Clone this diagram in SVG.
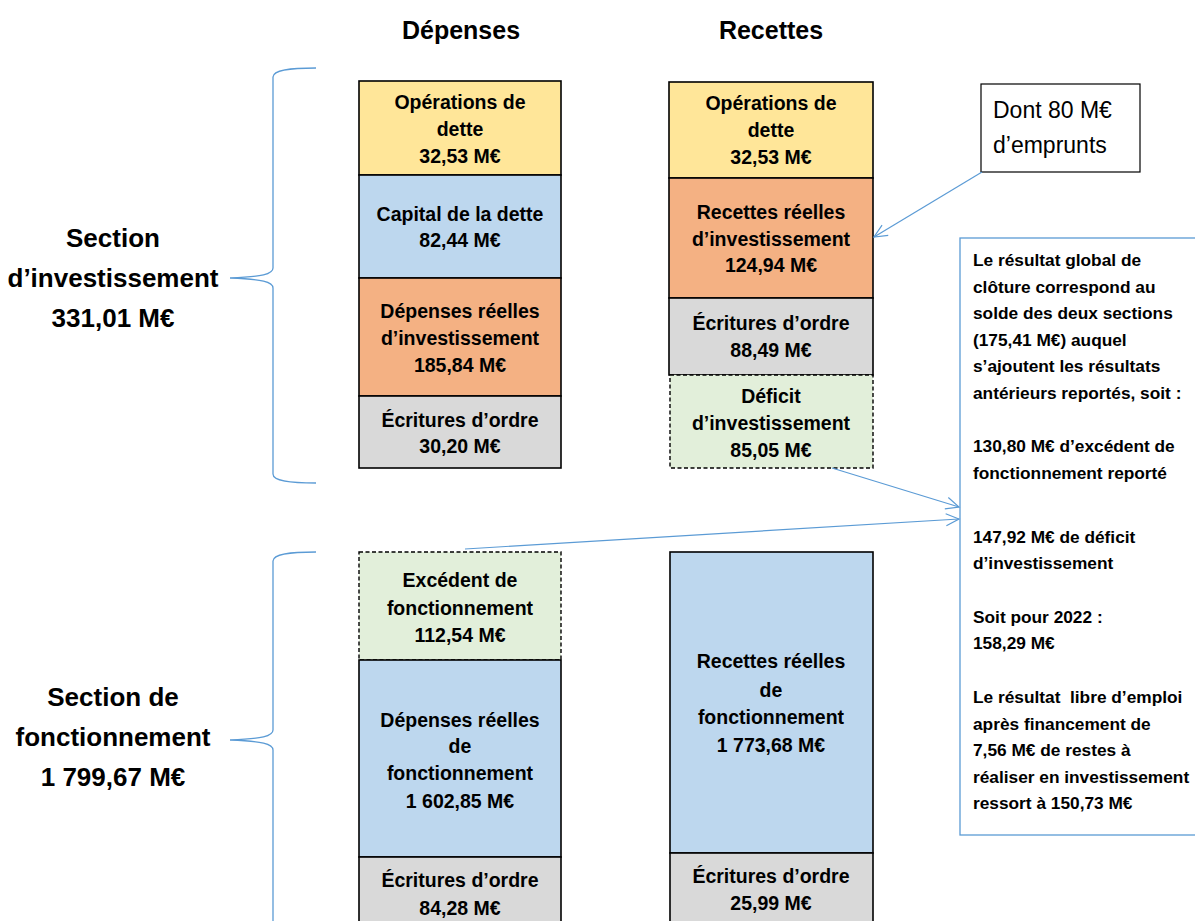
<svg xmlns="http://www.w3.org/2000/svg" width="1195" height="921" viewBox="0 0 1195 921">
<defs>
<style>
.hdr{font-family:"Liberation Sans",Arial,sans-serif;font-weight:bold;font-size:25px;fill:#000;text-anchor:middle}
.sec{font-family:"Liberation Sans",Arial,sans-serif;font-weight:bold;font-size:26px;fill:#000;text-anchor:middle}
.bt{font-family:"Liberation Sans",Arial,sans-serif;font-weight:bold;font-size:19.5px;fill:#000;text-anchor:middle}
.nt{font-family:"Liberation Sans",Arial,sans-serif;font-weight:bold;font-size:17.3px;fill:#000;white-space:pre}
.dt{font-family:"Liberation Sans",Arial,sans-serif;font-size:23px;fill:#000}
.box{stroke:#000;stroke-width:1.6}
.dash{stroke:#000;stroke-width:1.4;stroke-dasharray:4 2.5}
.y{fill:#FFE699}.b{fill:#BDD7EE}.o{fill:#F4B183}.g{fill:#D9D9D9}.v{fill:#E2EFDA}
.brace{fill:none;stroke:#5B9BD5;stroke-width:1.3}
.con{fill:none;stroke:#5B9BD5;stroke-width:1.2}
</style>
<marker id="arr" markerUnits="userSpaceOnUse" markerWidth="16" markerHeight="14" refX="14" refY="7" orient="auto">
<path d="M1,1 L14,7 L1,13" fill="none" stroke="#5B9BD5" stroke-width="1.2"/>
</marker>
</defs>
<rect width="1195" height="921" fill="#fff"/>

<text class="hdr" x="461" y="39">Dépenses</text>
<text class="hdr" x="771" y="39">Recettes</text>

<g id="label-investissement">
<text class="sec" x="113" y="247">Section</text>
<text class="sec" x="113" y="287">d’investissement</text>
<text class="sec" x="113" y="327">331,01 M€</text>
</g>
<g id="label-fonctionnement">
<text class="sec" x="113" y="706">Section de</text>
<text class="sec" x="113" y="746">fonctionnement</text>
<text class="sec" x="113" y="786">1 799,67 M€</text>
</g>

<g id="brace-investissement">
<path class="brace" d="M316,68 C290,68 273,70 273,77 L273,268 C273,274 262,277 230,278 C262,279 273,282 273,288 L273,474 C273,481 290,483 316,483"/>
</g>
<g id="brace-fonctionnement">
<path class="brace" d="M316,552 C290,552 273,554 273,561 L273,730 C273,736 262,739 230,740 C262,741 273,744 273,750 L273,930"/>
</g>

<g id="dep-operations-dette">
<rect class="box y" x="359" y="81" width="202" height="94"/>
<text class="bt" x="460" y="109">Opérations de</text>
<text class="bt" x="460" y="136">dette</text>
<text class="bt" x="460" y="163">32,53 M€</text>
</g>
<g id="dep-capital-dette">
<rect class="box b" x="359" y="175" width="202" height="103"/>
<text class="bt" x="460" y="221">Capital de la dette</text>
<text class="bt" x="460" y="247">82,44 M€</text>
</g>
<g id="dep-reelles-invest">
<rect class="box o" x="359" y="278" width="202" height="118"/>
<text class="bt" x="460" y="318">Dépenses réelles</text>
<text class="bt" x="460" y="345">d’investissement</text>
<text class="bt" x="460" y="372">185,84 M€</text>
</g>
<g id="dep-ecritures-invest">
<rect class="box g" x="359" y="396" width="202" height="72"/>
<text class="bt" x="460" y="427">Écritures d’ordre</text>
<text class="bt" x="460" y="453">30,20 M€</text>
</g>

<g id="rec-operations-dette">
<rect class="box y" x="669" y="82" width="204" height="96"/>
<text class="bt" x="771" y="110">Opérations de</text>
<text class="bt" x="771" y="137">dette</text>
<text class="bt" x="771" y="164">32,53 M€</text>
</g>
<g id="rec-reelles-invest">
<rect class="box o" x="669" y="178" width="204" height="120"/>
<text class="bt" x="771" y="219">Recettes réelles</text>
<text class="bt" x="771" y="246">d’investissement</text>
<text class="bt" x="771" y="272">124,94 M€</text>
</g>
<g id="rec-ecritures-invest">
<rect class="box g" x="669" y="298" width="204" height="77"/>
<text class="bt" x="771" y="330">Écritures d’ordre</text>
<text class="bt" x="771" y="357">88,49 M€</text>
</g>
<g id="rec-deficit-invest">
<rect class="dash v" x="670" y="375" width="203" height="93"/>
<text class="bt" x="771" y="403">Déficit</text>
<text class="bt" x="771" y="430">d’investissement</text>
<text class="bt" x="771" y="457">85,05 M€</text>
</g>

<g id="dep-excedent-fonct">
<rect class="dash v" x="359" y="552" width="202" height="108"/>
<text class="bt" x="460" y="587">Excédent de</text>
<text class="bt" x="460" y="615">fonctionnement</text>
<text class="bt" x="460" y="642">112,54 M€</text>
</g>
<g id="dep-reelles-fonct">
<rect class="box b" x="359" y="660" width="202" height="197"/>
<text class="bt" x="460" y="727">Dépenses réelles</text>
<text class="bt" x="460" y="753">de</text>
<text class="bt" x="460" y="780">fonctionnement</text>
<text class="bt" x="460" y="808">1 602,85 M€</text>
</g>
<g id="dep-ecritures-fonct">
<rect class="box g" x="359" y="857" width="202" height="80"/>
<text class="bt" x="460" y="887">Écritures d’ordre</text>
<text class="bt" x="460" y="915">84,28 M€</text>
</g>

<g id="rec-reelles-fonct">
<rect class="box b" x="670" y="552" width="203" height="301"/>
<text class="bt" x="771" y="668">Recettes réelles</text>
<text class="bt" x="771" y="697">de</text>
<text class="bt" x="771" y="724">fonctionnement</text>
<text class="bt" x="771" y="752">1 773,68 M€</text>
</g>
<g id="rec-ecritures-fonct">
<rect class="box g" x="670" y="853" width="203" height="80"/>
<text class="bt" x="771" y="883">Écritures d’ordre</text>
<text class="bt" x="771" y="910">25,99 M€</text>
</g>

<g id="note-emprunts">
<rect x="981" y="84" width="159" height="88" fill="#fff" stroke="#000" stroke-width="1.2"/>
<text class="dt" x="993" y="118">Dont 80 M€</text>
<text class="dt" x="993" y="153">d’emprunts</text>
</g>

<g id="note-resultat">
<rect x="960" y="238" width="245" height="597" fill="#fff" stroke="#5B9BD5" stroke-width="1.3"/>
<text class="nt" x="973" y="266">Le résultat global de</text>
<text class="nt" x="973" y="293">clôture correspond au</text>
<text class="nt" x="973" y="319">solde des deux sections</text>
<text class="nt" x="973" y="346">(175,41 M€) auquel</text>
<text class="nt" x="973" y="372">s’ajoutent les résultats</text>
<text class="nt" x="973" y="399">antérieurs reportés, soit :</text>
<text class="nt" x="973" y="452">130,80 M€ d’excédent de</text>
<text class="nt" x="973" y="479">fonctionnement reporté</text>
<text class="nt" x="973" y="543">147,92 M€ de déficit</text>
<text class="nt" x="973" y="569">d’investissement</text>
<text class="nt" x="973" y="623">Soit pour 2022 :</text>
<text class="nt" x="973" y="649">158,29 M€</text>
<text class="nt" x="973" y="703" xml:space="preserve">Le résultat  libre d’emploi</text>
<text class="nt" x="973" y="730">après financement de</text>
<text class="nt" x="973" y="756">7,56 M€ de restes à</text>
<text class="nt" x="973" y="783">réaliser en investissement</text>
<text class="nt" x="973" y="809">ressort à 150,73 M€</text>
</g>

<g id="connectors">
<line class="con" x1="982" y1="172" x2="874" y2="237" marker-end="url(#arr)"/>
<line class="con" x1="832" y1="468" x2="959" y2="507" marker-end="url(#arr)"/>
<line class="con" x1="465" y1="549" x2="959" y2="519" marker-end="url(#arr)"/>
</g>
</svg>
